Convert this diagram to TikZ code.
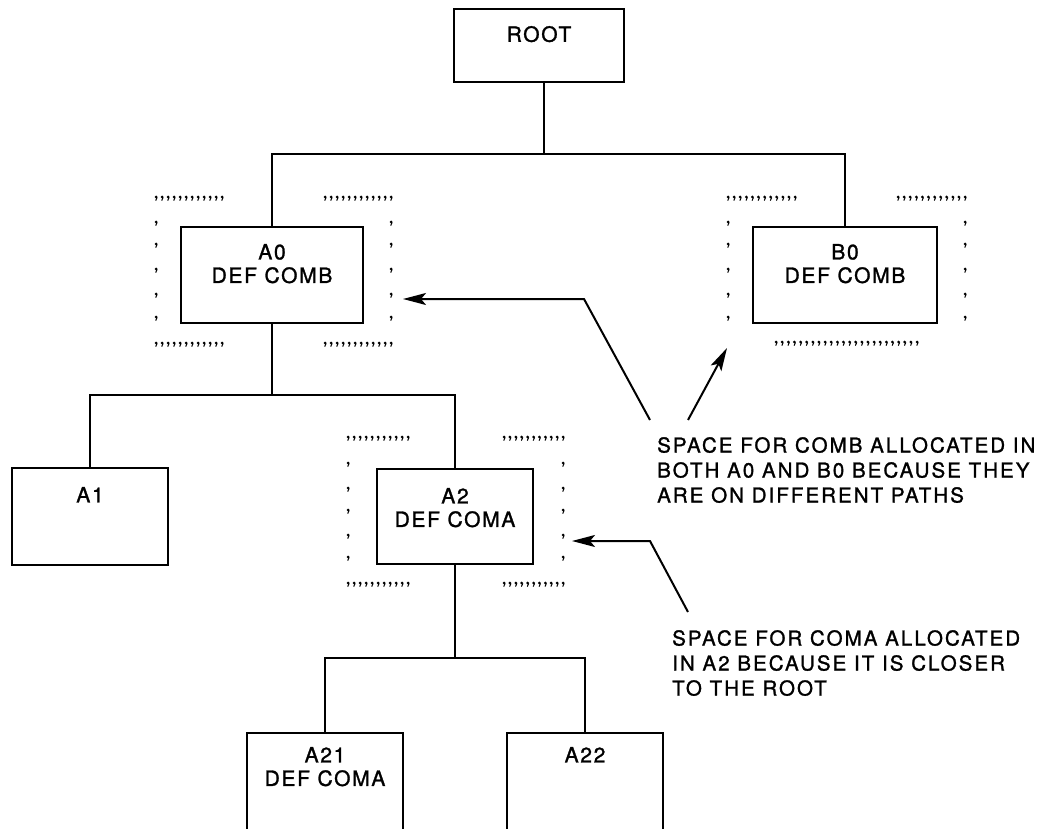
\documentclass[tikz,border=0pt]{standalone}
\usepackage{fontspec}
\setmainfont{TeX Gyre Heros}
\newfontfamily\boxfont[LetterSpace=8,FakeBold=1.3]{TeX Gyre Heros}
\newfontfamily\notefont[LetterSpace=10,FakeBold=1.3]{TeX Gyre Heros}
\usetikzlibrary{arrows.meta}

% a row of n comma marks from x1 to x2 at height y
\newcommand\tickrow[4]{%
  \pgfmathtruncatemacro\tkn{#4-1}%
  \foreach \tki in {0,...,\tkn}{%
    \pgfmathsetmacro\tkx{#1+\tki*(#2-#1)/\tkn}%
    \pic at (\tkx,#3) {tickmark};}}
% a column of comma marks at x, for the listed heights
\newcommand\tickcol[2]{%
  \foreach \tky in {#2}{\pic at (#1,\tky) {tickmark};}}

\begin{document}
\begin{tikzpicture}[x=1pt,y=-1pt,
  box/.style={draw, line width=2.2pt, inner sep=0pt},
  lbl/.style={anchor=north, align=center, inner sep=0pt,
              font=\boxfont\fontsize{21}{23.5}\selectfont},
  wire/.style={line width=2pt},
  pointer/.style={line width=2pt, -{Stealth[length=23pt,width=12pt,inset=5pt]}},
  note/.style={anchor=north west, align=left, inner sep=0pt,
               font=\notefont\fontsize{20.5}{25}\selectfont},
  tickmark/.pic={\fill (0,0) circle (1.5pt);
                 \draw[line width=1pt] (1.1,0.4) -- (-0.3,3.6);}]
\useasboundingbox (0,0) rectangle (1050,829);

% boxes
\node[box, minimum width=170pt, minimum height=73pt] (root) at (539,45.5) {};
\node[box, minimum width=182pt, minimum height=96pt] (a0) at (272,275) {};
\node[box, minimum width=184pt, minimum height=96pt] (b0) at (845,275) {};
\node[box, minimum width=156pt, minimum height=97pt] (a1) at (90,516.5) {};
\node[box, minimum width=156pt, minimum height=95pt] (a2) at (455,516.5) {};
\node[box, minimum width=156pt, minimum height=110pt] (a21) at (325,788) {};
\node[box, minimum width=156pt, minimum height=110pt] (a22) at (585,788) {};

% box labels
\node[lbl] (troot) at ([yshift=-18pt]root.north) {ROOT};
\node[lbl] (ta0) at ([yshift=-18pt]a0.north) {A0\\DEF COMB};
\node[lbl] (tb0) at ([yshift=-18pt]b0.north) {B0\\DEF COMB};
\node[lbl] (ta1) at ([yshift=-20pt]a1.north) {A1};
\node[lbl] (ta2) at ([yshift=-20pt]a2.north) {A2\\DEF COMA};
\node[lbl] (ta21) at ([yshift=-15pt]a21.north) {A21\\DEF COMA};
\node[lbl] (ta22) at ([yshift=-15pt]a22.north) {A22};

% tree connectors
\coordinate (rootbar) at (544,154);
\coordinate (a0bar) at (272,395);
\coordinate (a2bar) at (455,658);
\draw[wire] ([xshift=5pt]root.south) -- (rootbar);
\draw[wire] (a0.north) |- (rootbar) -| (b0.north);
\draw[wire] (a0.south) -- (a0bar);
\draw[wire] (a1.north) |- (a0bar) -| (a2.north);
\draw[wire] (a2.south) -- (a2bar);
\draw[wire] (a21.north) |- (a2bar) -| (a22.north);

% reserved space marks around A0
\tickrow{156}{222}{197}{12}
\tickrow{325}{391}{197}{12}
\tickrow{156}{222}{343}{12}
\tickrow{325}{391}{343}{12}
\tickcol{156}{222,244,269,294,317}
\tickcol{391}{222,244,269,294,317}

% reserved space marks around B0
\tickrow{728}{795}{197}{12}
\tickrow{898}{965}{197}{12}
\tickrow{776}{917}{342}{24}
\tickcol{728}{222,244,269,294,317}
\tickcol{965}{222,244,269,294,317}

% reserved space marks around A2
\tickrow{348}{408}{437}{11}
\tickrow{504}{563}{437}{11}
\tickrow{348}{408}{583}{11}
\tickrow{504}{563}{583}{11}
\tickcol{348}{463,488,510,535,557}
\tickcol{563}{463,488,510,535,557}

% notes
\node[note] (n1) at (657,437) {SPACE FOR COMB ALLOCATED IN\\BOTH A0 AND B0 BECAUSE THEY\\ARE ON DIFFERENT PATHS};
\node[note] (n2) at (672,630) {SPACE FOR COMA ALLOCATED\\IN A2 BECAUSE IT IS CLOSER\\TO THE ROOT};

% pointers
\coordinate (p1) at (650,420);
\coordinate (p1b) at (584,299);
\coordinate (t1) at (403,299);
\coordinate (p2) at (688,420);
\coordinate (t2) at (727,348);
\coordinate (p3) at (688,612);
\coordinate (p3b) at (650,541);
\coordinate (t3) at (572,541);
\draw[pointer] (p1) -- (p1b) -- (t1);
\draw[pointer] (p2) -- (t2);
\draw[pointer] (p3) -- (p3b) -- (t3);
\end{tikzpicture}
\end{document}
